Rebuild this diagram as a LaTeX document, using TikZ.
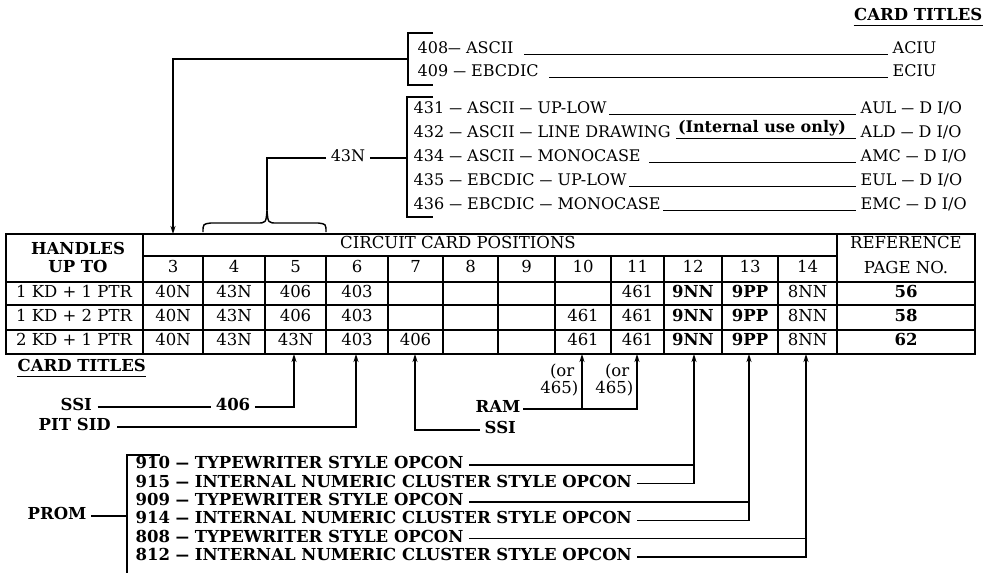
\documentclass[tikz,border=0pt]{standalone}
\usepackage{fontspec}
\usepackage{graphicx}
\setmainfont{DejaVu Serif}
\usetikzlibrary{arrows.meta}
\newcommand{\dsh}{\scalebox{0.8}[1]{—}}
\begin{document}
\begin{tikzpicture}[x=1pt,y=-1pt,line width=1.4pt,
  lbl/.style={inner sep=0pt,text height=0.73em,text depth=0pt,font=\fontsize{16.5}{19}\selectfont},
  bl/.style={inner sep=0pt,text height=0.73em,text depth=0pt,font=\fontsize{16.5}{19}\selectfont\bfseries},
  tl/.style={inner sep=0pt,text height=0.73em,text depth=0pt,font=\fontsize{16}{19}\selectfont},
  arr/.style={-{Stealth[length=8pt,width=5pt]}},
  uline/.style={line width=1.2pt}]
\useasboundingbox (0,0) rectangle (994,573);

% ---------- top: card titles ----------
\node[bl,anchor=east] (ct1) at (983,17) {CARD TITLES};
\draw[uline] ([yshift=-4pt]ct1.south west) -- ([yshift=-4pt]ct1.south east);

% bracket 408/409
\draw (433,33) -- (408,33) -- (408,85) -- (433,85);
\coordinate (br1) at (408,59);
\coordinate (br1c) at (173,59);
\coordinate (top3) at (173,234);
\node[tl,anchor=west] (t408) at (417,50) {408\dsh{} ASCII};
\node[tl,anchor=west] (t409) at (417,73) {409 \dsh{} EBCDIC};
\node[tl,anchor=west] (aciu) at (892,50) {ACIU};
\node[tl,anchor=west] (eciu) at (892,73) {ECIU};
\draw[uline] ([xshift=10pt]t408.south east) -- ([xshift=-4pt]aciu.south west);
\draw[uline] ([xshift=10pt]t409.south east) -- ([xshift=-4pt]eciu.south west);
\draw[arr] (br1) -- (br1c) -- (top3);

% bracket 431..436
\draw (433,97) -- (407,97) -- (407,217) -- (433,217);
\coordinate (br2) at (407,158);
\node[tl,anchor=west] (t431) at (413,110) {431 \dsh{} ASCII \dsh{} UP-LOW};
\node[tl,anchor=west] (t432) at (413,134) {432 \dsh{} ASCII \dsh{} LINE DRAWING};
\node[tl,anchor=west] (t434) at (413,158) {434 \dsh{} ASCII \dsh{} MONOCASE};
\node[tl,anchor=west] (t435) at (413,182) {435 \dsh{} EBCDIC \dsh{} UP-LOW};
\node[tl,anchor=west] (t436) at (413,206) {436 \dsh{} EBCDIC \dsh{} MONOCASE};
\node[tl,anchor=west] (aul) at (860,110) {AUL \dsh{} D I/O};
\node[tl,anchor=west] (ald) at (860,134) {ALD \dsh{} D I/O};
\node[tl,anchor=west] (amc) at (860,158) {AMC \dsh{} D I/O};
\node[tl,anchor=west] (eul) at (860,182) {EUL \dsh{} D I/O};
\node[tl,anchor=west] (emc) at (860,206) {EMC \dsh{} D I/O};
\node[bl,anchor=west,font=\fontsize{16}{19}\selectfont\bfseries] (intl) at ([xshift=6pt,yshift=5pt]t432.east) {(Internal use only)};
\draw[uline] ([xshift=2pt]t431.south east) -- ([xshift=-4pt]aul.south west);
\draw[uline] ([xshift=5pt]t432.south east) -- ([xshift=-4pt]ald.south west);
\draw[uline] ([xshift=8pt]t434.south east) -- ([xshift=-4pt]amc.south west);
\draw[uline] ([xshift=2pt]t435.south east) -- ([xshift=-4pt]eul.south west);
\draw[uline] ([xshift=2pt]t436.south east) -- ([xshift=-4pt]emc.south west);

% 43N and brace
\node[tl] (n43) at (348,158) {43N};
\coordinate (n43c) at (267,158);
\coordinate (bracetip) at (267,210);
\draw ([xshift=4pt]n43.east) -- (br2);
\draw ([xshift=-4pt]n43.west) -- (n43c) -- (bracetip);
\draw (203,232) .. controls (203,224) .. (211,223) -- (257,223)
      .. controls (266,223) .. (bracetip)
      .. controls (268,223) .. (277,223) -- (318,223)
      .. controls (326,224) .. (326,232);

% ---------- table ----------
\draw (6,234) rectangle (975,354);
\draw (143,234) -- (143,354);
\draw (837,234) -- (837,354);
\draw (143,256) -- (837,256);
\foreach \yy in {282,305,330} \draw (6,\yy) -- (975,\yy);
\foreach \xx in {203,265,326,388,443,498,555,611,664,722,778} \draw (\xx,256) -- (\xx,354);

\node[bl] (hand1) at (78,251) {HANDLES};
\node[bl] (hand2) at (78,269) {UP TO};
\node[lbl] (ccp) at (458,245) {CIRCUIT CARD POSITIONS};
\node[lbl] (ref1) at (906,245) {REFERENCE};
\node[lbl] (ref2) at (906,270) {PAGE NO.};
\foreach \c/\xx in {3/173,4/234,5/295.5,6/357,7/415.5,8/470.5,9/526.5,10/583,11/637.5,12/693,13/750,14/807.5}
  \node[lbl] (h\c) at (\xx,269) {\c};

\node[lbl] (r1) at (74,293.5) {1 KD + 1 PTR};
\node[lbl] (r2) at (74,317.5) {1 KD + 2 PTR};
\node[lbl] (r3) at (74,342) {2 KD + 1 PTR};
\foreach \r/\yy in {1/293.5,2/317.5,3/342}{
  \node[lbl] (c\r-3) at (173,\yy) {40N};
  \node[lbl] (c\r-4) at (234,\yy) {43N};
  \node[lbl] (c\r-6) at (357,\yy) {403};
  \node[lbl] (c\r-11) at (637.5,\yy) {461};
  \node[bl] (c\r-12) at (693,\yy) {9NN};
  \node[bl] (c\r-13) at (750,\yy) {9PP};
  \node[lbl] (c\r-14) at (807.5,\yy) {8NN};
}
\node[lbl] (c1-5) at (295.5,293.5) {406};
\node[lbl] (c2-5) at (295.5,317.5) {406};
\node[lbl] (c3-5) at (295.5,342) {43N};
\node[lbl] (c3-7) at (415.5,342) {406};
\node[lbl] (c2-10) at (583,317.5) {461};
\node[lbl] (c3-10) at (583,342) {461};
\node[bl] (p1) at (906,293.5) {56};
\node[bl] (p2) at (906,317.5) {58};
\node[bl] (p3) at (906,342) {62};

% ---------- below table ----------
\node[bl,anchor=west] (ct2) at (17,368) {CARD TITLES};
\draw[uline] ([yshift=-4pt]ct2.south west) -- ([yshift=-4pt]ct2.south east);

\coordinate (bot5) at (294,354);
\coordinate (bot6) at (356,354);
\coordinate (bot7) at (415,354);
\coordinate (bot10) at (582,354);
\coordinate (bot11) at (637,354);
\coordinate (bot12) at (694,354);
\coordinate (bot13) at (749,354);
\coordinate (bot14) at (806,354);

\node[bl,anchor=west] (ssi1) at (60,407) {SSI};
\node[bl] (n406) at (233,407) {406};
\draw ([xshift=5pt]ssi1.east) -- ([xshift=-4pt]n406.west);
\draw[arr] ([xshift=4pt]n406.east) -- (294,407) -- (bot5);

\node[bl,anchor=west] (pit) at (38,427) {PIT SID};
\draw[arr] ([xshift=6pt]pit.east) -- (356,427) -- (bot6);

\node[bl,anchor=west] (ssi2) at (484,430) {SSI};
\draw[arr] ([xshift=-4pt]ssi2.west) -- (415,430) -- (bot7);

\node[bl,anchor=west] (ram) at (475,409) {RAM};
\coordinate (ramj) at (582,409);
\draw[arr] ([xshift=2pt]ram.east) -- (637,409) -- (bot11);
\draw[arr] (ramj) -- (bot10);
\node[lbl,anchor=east] (or1) at (575,373) {(or};
\node[lbl,anchor=east] (o465a) at (579,390) {465)};
\node[lbl,anchor=east] (or2) at (630,373) {(or};
\node[lbl,anchor=east] (o465b) at (634,390) {465)};

% PROM bracket
\draw (160,455) -- (127,455) -- (127,573);
\node[bl,anchor=west] (prom) at (27,516) {PROM};
\draw ([xshift=4pt]prom.east) -- (127,516);
\node[bl,anchor=west] (t910) at (135,465) {910 \dsh{} TYPEWRITER STYLE OPCON};
\node[bl,anchor=west] (t915) at (135,483.4) {915 \dsh{} INTERNAL NUMERIC CLUSTER STYLE OPCON};
\node[bl,anchor=west] (t909) at (135,501.8) {909 \dsh{} TYPEWRITER STYLE OPCON};
\node[bl,anchor=west] (t914) at (135,520.2) {914 \dsh{} INTERNAL NUMERIC CLUSTER STYLE OPCON};
\node[bl,anchor=west] (t808) at (135,538.6) {808 \dsh{} TYPEWRITER STYLE OPCON};
\node[bl,anchor=west] (t812) at (135,557) {812 \dsh{} INTERNAL NUMERIC CLUSTER STYLE OPCON};
\draw ([xshift=5pt]t910.east) -- (694,465);
\draw[arr] ([xshift=5pt]t915.east) -- (694,483.4) -- (bot12);
\draw ([xshift=5pt]t909.east) -- (749,501.8);
\draw[arr] ([xshift=5pt]t914.east) -- (749,520.2) -- (bot13);
\draw ([xshift=5pt]t808.east) -- (806,538.6);
\draw[arr] ([xshift=5pt]t812.east) -- (806,557) -- (bot14);
\end{tikzpicture}
\end{document}
